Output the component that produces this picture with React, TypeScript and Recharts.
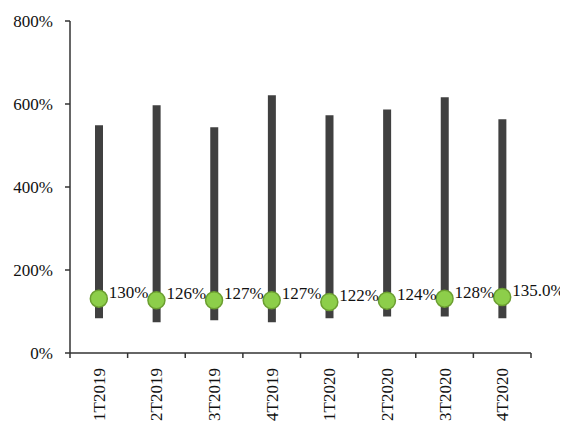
import React from "react"
import {
  ComposedChart,
  Bar,
  Line,
  XAxis,
  YAxis
} from "recharts"

const quarters = ["1T2019", "2T2019", "3T2019", "4T2019", "1T2020", "2T2020", "3T2020", "4T2020"]
const lows = [84, 74, 79, 74, 84, 88, 88, 84]
const highs = [549, 597, 544, 621, 573, 587, 616, 563]
const ratios = [131, 127, 127, 127, 123, 126, 131, 135]
const ratioLabels = ["130%", "126%", "127%", "127%", "122%", "124%", "128%", "135.0%"]
const yTicks = [0, 200, 400, 600, 800]

const data = quarters.map((q, i) => ({
  quarter: q,
  range: [lows[i], highs[i]],
  ratio: ratios[i]
}))

const W = 560
const H = 413
const MARGIN = { top: 13, right: 37, left: 0, bottom: 0 }
const Y_WIDTH = 62
const BAND = (W - MARGIN.left - MARGIN.right - Y_WIDTH) / quarters.length
const FONT = "Liberation Serif"
const AXIS = "#333333"

function QuarterTick(props: any) {
  const { x, y, index, payload } = props
  const left = x - BAND / 2
  return (
    <g>
      <line x1={left} x2={left} y1={y} y2={y + 5} stroke={AXIS} strokeWidth={1.5} />
      {index === quarters.length - 1 && (
        <line x1={x + BAND / 2} x2={x + BAND / 2} y1={y} y2={y + 5} stroke={AXIS} strokeWidth={1.5} />
      )}
      <text
        transform={`translate(${x},${y + 15}) rotate(-90)`}
        textAnchor="end"
        dy="0.35em"
        fontSize={17}
        style={{ fontFamily: FONT }}
        fill="#111"
      >
        {payload.value}
      </text>
    </g>
  )
}

function RatioLabel(props: any) {
  const { x, y, index } = props
  return (
    <text x={x + 10} y={y - 1} fontSize={17} style={{ fontFamily: FONT }} fill="#111" textAnchor="start">
      {ratioLabels[index]}
    </text>
  )
}

export default function App() {
  return (
    <div style={{ width: W, height: H, fontFamily: FONT }}>
      <ComposedChart width={W} height={H} data={data} margin={MARGIN} style={{ fontFamily: FONT }}>
        <XAxis
          dataKey="quarter"
          height={68}
          interval={0}
          tickSize={0}
          tickMargin={0}
          tickLine={false}
          axisLine={{ stroke: AXIS, strokeWidth: 1.5 }}
          tick={<QuarterTick />}
        />
        <YAxis
          width={Y_WIDTH}
          domain={[0, 800]}
          ticks={yTicks}
          tickFormatter={(v) => `${v}%`}
          tickSize={5}
          tickMargin={12}
          tickLine={{ stroke: AXIS, strokeWidth: 1.5 }}
          axisLine={{ stroke: AXIS, strokeWidth: 1.5 }}
          tick={{ fontSize: 17, fontFamily: FONT, fill: "#111" }}
        />
        <Bar dataKey="range" fill="#404040" barSize={8} isAnimationActive={false} />
        <Line
          dataKey="ratio"
          stroke="none"
          strokeWidth={0}
          dot={{ r: 8.5, fill: "#8DCE4A", stroke: "#6B9E30", strokeWidth: 1.5 }}
          activeDot={false}
          label={<RatioLabel />}
          isAnimationActive={false}
        />
      </ComposedChart>
    </div>
  )
}
